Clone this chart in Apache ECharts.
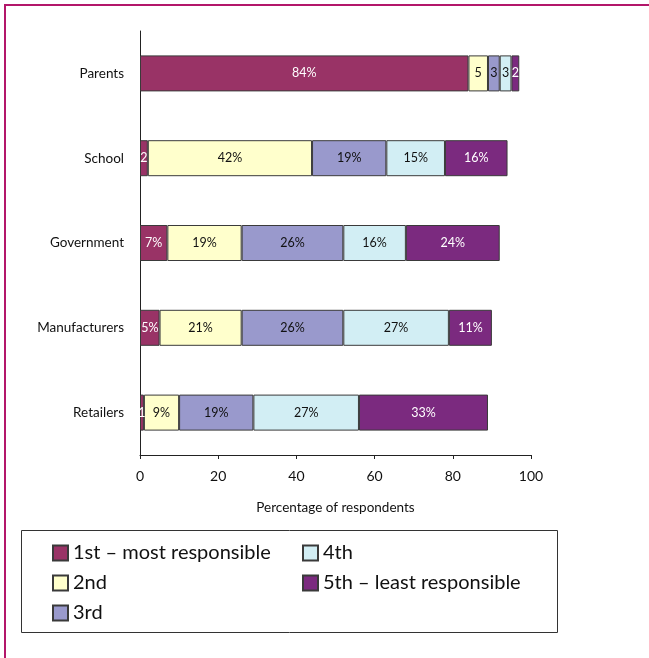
<!DOCTYPE html>
<html>
<head>
<meta charset="utf-8">
<script src="https://cdn.jsdelivr.net/npm/echarts@6/dist/echarts.min.js"></script>
<style>
  html, body { margin: 0; padding: 0; background: #fff; }
  #chart { width: 649px; height: 658px; }
</style>
</head>
<body>
<div id="chart"></div>
<script>
// Who is responsible: ranking shares per party (percentage of respondents)
const categories = ['Parents', 'School', 'Government', 'Manufacturers', 'Retailers'];
const rankNames = ['1st – most responsible', '2nd', '3rd', '4th', '5th – least responsible'];
const rank1 = [84, 2, 7, 5, 1];
const rank2 = [5, 42, 19, 21, 9];
const rank3 = [3, 19, 26, 26, 19];
const rank4 = [3, 15, 16, 27, 27];
const rank5 = [2, 16, 24, 11, 33];
const xTicks = [0, 20, 40, 60, 80, 100];

const colors = ['#993366', '#ffffcc', '#9999cc', '#d2eef4', '#7b2a7f'];
const labelColors = ['#ffffff', '#111111', '#111111', '#111111', '#ffffff'];
const FONT = 'Lato, "Open Sans", sans-serif';

// Narrow segments in the top row show the bare number
function labelText(p) {
  const v = p.value;
  if (v <= 2 || (p.name === 'Parents' && v < 10)) return String(v);
  return v + '%';
}

const rankData = [rank1, rank2, rank3, rank4, rank5];
const series = rankNames.map((name, i) => ({
  name: name,
  type: 'bar',
  stack: 'total',
  barWidth: 36,
  data: rankData[i],
  itemStyle: { color: colors[i], borderColor: '#3a3a3a', borderWidth: 1 },
  label: {
    show: true,
    position: 'inside',
    formatter: labelText,
    color: labelColors[i],
    fontFamily: FONT,
    fontSize: 12.5
  },
  emphasis: { disabled: true }
}));

const legendBase = {
  orient: 'vertical',
  top: 538,
  itemWidth: 15,
  itemHeight: 15,
  itemGap: 10,
  icon: 'rect',
  selectedMode: false,
  textStyle: { color: '#111', fontFamily: FONT, fontSize: 20 }
};

const chart = echarts.init(document.getElementById('chart'), null, { renderer: 'canvas' });
chart.setOption({
  animation: false,
  backgroundColor: '#ffffff',
  grid: { left: 140, right: 118, top: 31, bottom: 203, containLabel: false },
  xAxis: {
    type: 'value',
    min: xTicks[0],
    max: xTicks[xTicks.length - 1],
    interval: xTicks[1] - xTicks[0],
    name: 'Percentage of respondents',
    nameLocation: 'middle',
    nameGap: 46,
    nameTextStyle: { color: '#111', fontFamily: FONT, fontSize: 13.5 },
    axisLine: { show: true, lineStyle: { color: '#222', width: 1 } },
    axisTick: { show: true, length: 4, lineStyle: { color: '#222' } },
    axisLabel: { color: '#111', fontFamily: FONT, fontSize: 14, margin: 14 },
    splitLine: { show: false }
  },
  yAxis: {
    type: 'category',
    data: categories,
    inverse: true,
    axisLine: { show: true, lineStyle: { color: '#222', width: 1 } },
    axisTick: { show: false },
    axisLabel: { color: '#111', fontFamily: FONT, fontSize: 13.5, margin: 16 }
  },
  legend: [
    Object.assign({}, legendBase, { data: rankNames.slice(0, 3), left: 47 }),
    Object.assign({}, legendBase, { data: rankNames.slice(3), left: 297 })
  ],
  graphic: [
    {
      type: 'rect',
      shape: { x: 21.5, y: 530.5, width: 536, height: 102 },
      style: { fill: 'none', stroke: '#333', lineWidth: 1 },
      z: -1
    },
    {
      type: 'line',
      shape: { x1: 4, y1: 5, x2: 649, y2: 5 },
      style: { stroke: '#b3166a', lineWidth: 2 }
    },
    {
      type: 'line',
      shape: { x1: 5, y1: 4, x2: 5, y2: 658 },
      style: { stroke: '#b3166a', lineWidth: 2 }
    }
  ],
  series: series
});
</script>
</body>
</html>
